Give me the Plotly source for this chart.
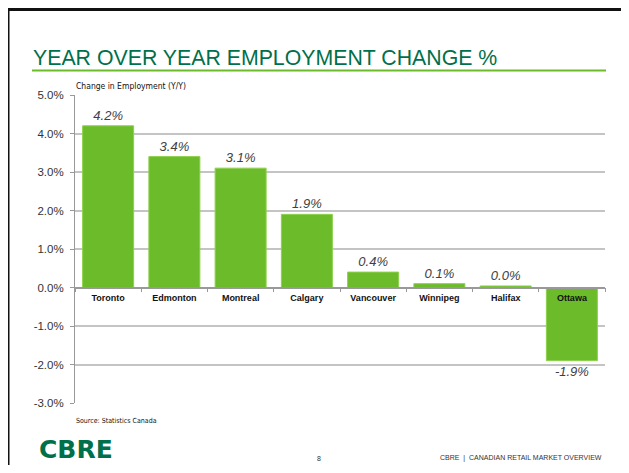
import plotly.graph_objects as go

cities = ["Toronto", "Edmonton", "Montreal", "Calgary", "Vancouver", "Winnipeg", "Halifax", "Ottawa"]
change_pct = [4.2, 3.4, 3.1, 1.9, 0.4, 0.1, 0.04, -1.9]
y_ticks = [5, 4, 3, 2, 1, 0, -1, -2, -3]
y_tick_labels = ["5.0%", "4.0%", "3.0%", "2.0%", "1.0%", "0.0%", "-1.0%", "-2.0%", "-3.0%"]

# page body has an 8px margin; work in page pixel coordinates and convert
OFF = 8
W, H = 629 - 2 * OFF, 473 - 2 * OFF
L, R, T, B = 75, 605, 95, 403  # plot area in page pixels

def px(x):
    return (x - L) / (R - L)

def py(y):
    return (B - y) / (B - T)

fig = go.Figure()
fig.add_trace(go.Bar(
    x=cities, y=change_pct,
    marker=dict(color="#6CBB2A", line=dict(color="#8ED14E", width=1)),
    text=[f"{v:.1f}%" for v in change_pct],
    textposition="outside",
    cliponaxis=False,
    textfont=dict(family="Arial", size=13, color="#404040", style="italic"),
    hoverinfo="skip",
))

zero_pos = (0 - (-3)) / (5 - (-3))

fig.update_layout(
    width=W, height=H,
    margin=dict(l=L - OFF, r=(OFF + W) - R, t=T - OFF, b=(OFF + H) - B),
    paper_bgcolor="white", plot_bgcolor="white",
    showlegend=False,
    bargap=0.23,
    xaxis=dict(
        anchor="free", position=zero_pos,
        showline=True, linecolor="#999999", linewidth=1.5,
        ticks="outside", tickson="boundaries", ticklen=4, tickcolor="#999999",
        tickfont=dict(family="Arial", size=9, color="#111111", weight="bold"),
        ticklabelstandoff=2,
        showgrid=False, fixedrange=True,
    ),
    yaxis=dict(
        range=[-3, 5], tickvals=y_ticks, ticktext=y_tick_labels,
        showline=True, linecolor="#999999", linewidth=1,
        ticks="outside", ticklen=4, tickcolor="#999999",
        showgrid=True, gridcolor="#C4C4C4", gridwidth=1.5,
        zeroline=False,
        tickfont=dict(family="Arial", size=11.5, color="#333333"),
        ticklabelstandoff=4,
    ),
)

shapes = [
    # slide frame
    dict(type="line", xref="paper", yref="paper", x0=px(6), x1=px(640), y0=py(9.5), y1=py(9.5),
         line=dict(color="#111111", width=3)),
    dict(type="line", xref="paper", yref="paper", x0=px(8), x1=px(8), y0=py(8), y1=py(480),
         line=dict(color="#111111", width=3)),
    # title underline
    dict(type="line", xref="paper", yref="paper", x0=px(32), x1=px(606), y0=py(70.5), y1=py(70.5),
         line=dict(color="#6CBB2A", width=2)),
]
fig.update_layout(shapes=shapes)

ann = [
    dict(text="YEAR OVER YEAR EMPLOYMENT CHANGE %", x=px(31), y=py(72), xanchor="left", yanchor="bottom",
         font=dict(family="Arial", size=21.3, color="#00704A")),
    dict(text="Change in Employment (Y/Y)", x=px(74), y=py(86), xanchor="left", yanchor="middle",
         font=dict(family="DejaVu Sans Condensed", size=8.5, color="#111111")),
    dict(text="Source: Statistics Canada", x=px(74), y=py(421), xanchor="left", yanchor="middle",
         font=dict(family="DejaVu Sans Condensed", size=7, color="#111111")),
    dict(text="<b>CBRE</b>", x=px(37), y=py(449), xanchor="left", yanchor="middle",
         font=dict(family="DejaVu Sans", size=25, color="#00704A")),
    dict(text="8", x=px(319), y=py(458), xanchor="center", yanchor="middle",
         font=dict(family="Arial", size=7, color="#333333")),
    dict(text="CBRE  |  CANADIAN RETAIL MARKET OVERVIEW", x=px(604), y=py(458), xanchor="right", yanchor="middle",
         font=dict(family="Arial", size=7, color="#333333")),
]
for a in ann:
    a.update(xref="paper", yref="paper", showarrow=False)
fig.update_layout(annotations=ann)

fig.write_html("out.html")
